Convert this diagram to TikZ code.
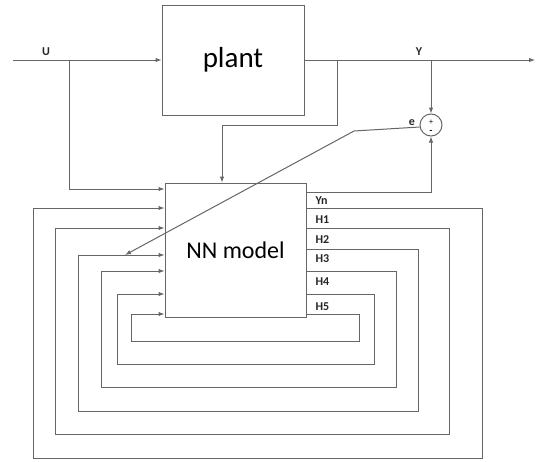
\documentclass[tikz,border=0pt]{standalone}
\usepackage{fontspec}
\setmainfont{Carlito}
\usetikzlibrary{arrows.meta}
\begin{document}
\begin{tikzpicture}[x=1pt,y=-1pt]
	\tikzset{
		wire/.style={line width=1pt,color=black!60},
		flow/.style={wire,-{Latex[length=6pt,width=4.5pt]}},
		block/.style={draw=black!60,line width=1pt,inner sep=0pt},
		tag/.style={font=\bfseries\fontsize{12}{12}\selectfont,text=black!85}
	}
	\useasboundingbox (0,0) rectangle (536,461);
	\node[block,minimum width=142pt,minimum height=110pt,font=\fontsize{29}{29}\selectfont] (plant) at (233,60) {plant};
	\node[block,minimum width=141pt,minimum height=134pt,font=\fontsize{24}{24}\selectfont] (NN) at (235.5,250) {NN model};
	\node[block,circle,minimum size=22pt] (sum) at (431,125) {};
	\node[font=\fontsize{8}{8}\selectfont] (plus) at ([yshift=3pt]sum.center) {+};
	\node[font=\bfseries\fontsize{9}{9}\selectfont] (minus) at ([yshift=-7pt]sum.center) {-};
	\path
	(13,60) coordinate (Uin)
	(69,60) coordinate (Ubr)
	(337,60) coordinate (Pbr)
	(431,60) coordinate (Ybr)
	(535,60) coordinate (Yout)
	(222,125) coordinate (Pd)
	(354,131) coordinate (ek)
	(125,255) coordinate (eend)
	(0,189) coordinate (Uy)
	(0,192) coordinate (Yny);
	\draw[flow] (Uin) -- (plant.west);
	\draw[flow] (plant.east) -- (Yout);
	\draw[flow] (Ubr) |- (NN.west |- Uy);
	\draw[flow] (Pbr) |- (Pd) -- (NN.north -| Pd);
	\draw[flow] (Ybr) -- (sum.north);
	\draw[flow] (NN.east |- Yny) -| (sum.south);
	\draw[flow] (sum.190) -- (ek) -- (eend);
	\node[tag] (Ulab) at (46,52) {U};
	\node[tag] (Ylab) at (419,52) {Y};
	\node[tag] (elab) at (412,123) {e};
	% recurrent loops, outermost first
	\foreach \lab/\yo/\yi/\xr/\yb/\xl/\yt in {
		Yn/208/208/482/458/33/201,H1/228/228/449/434/55/220,
		H2/249/255/418/411/78/240,H3/271/271/396/387/101/259,
		H4/294/294/374/364/117/282,H5/314/314/359/341/131/307
	}{
		\path (0,\yo) coordinate (\lab-yo) (0,\yi) coordinate (\lab-yi)
		(\xr,\yb) coordinate (\lab-c) (\xl,\yi) coordinate (\lab-l);
		\draw[flow] (NN.east |- \lab-yo) -| (\lab-c) -| (\lab-l) -- (NN.west |- \lab-yi);
		\node[tag,anchor=west] (\lab-t) at (312,\yt) {\lab};
	}
\end{tikzpicture}
\end{document}
